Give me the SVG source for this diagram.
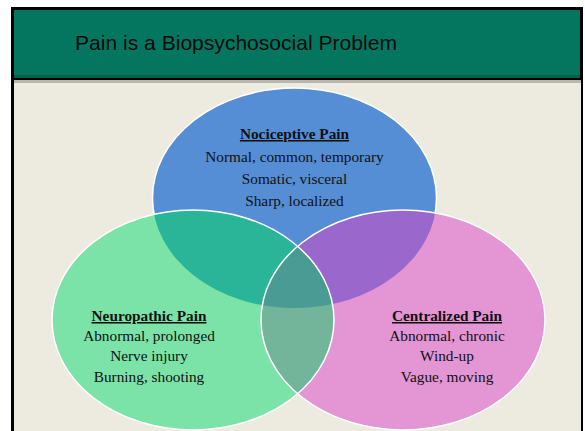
<svg xmlns="http://www.w3.org/2000/svg" width="585" height="431" viewBox="0 0 585 431">
<style>
.t{font-family:"Liberation Serif","Times New Roman",serif;font-size:15.3px;fill:#111;text-anchor:middle}
.h{font-weight:bold;text-decoration:underline}
.ol{fill:none;stroke:#fff;stroke-width:1.5}
</style>
<defs>
<clipPath id="cB"><ellipse cx="294.5" cy="198" rx="142" ry="110"/></clipPath>
<clipPath id="cG"><ellipse cx="193" cy="320" rx="141" ry="110"/></clipPath>
</defs>
<rect width="585" height="431" fill="#fff"/>
<rect x="11" y="7" width="572" height="430" fill="#000"/>
<rect x="14" y="10" width="566" height="68" fill="#04765F"/>
<rect x="14" y="75" width="566" height="3" fill="#035E4C"/>
<rect x="14" y="80" width="567" height="3" fill="#B9B6AD"/>
<rect x="14" y="83" width="567" height="350" fill="#EDEAE0"/>
<text x="75" y="50" font-family="'Liberation Sans',Arial,sans-serif" font-size="21" fill="#0a0a0a" textLength="322" lengthAdjust="spacingAndGlyphs">Pain is a Biopsychosocial Problem</text>

<g id="nociceptive">
<ellipse cx="294.5" cy="198" rx="142" ry="110" fill="#558ED5" stroke="#fff" stroke-width="1.5"/>
</g>
<g id="neuropathic">
<ellipse cx="193" cy="320" rx="141" ry="110" fill="#7BE3A8"/>
<ellipse cx="193" cy="320" rx="141" ry="110" fill="#2BB598" clip-path="url(#cB)"/>
</g>
<g id="centralized">
<ellipse cx="403" cy="320" rx="142" ry="110" fill="#E495D4"/>
<ellipse cx="403" cy="320" rx="142" ry="110" fill="#9A67CC" clip-path="url(#cB)"/>
<ellipse cx="403" cy="320" rx="142" ry="110" fill="#72B59A" clip-path="url(#cG)"/>
<g clip-path="url(#cB)"><ellipse cx="403" cy="320" rx="142" ry="110" fill="#4A9B93" clip-path="url(#cG)"/></g>
</g>
<g id="outlines">
<ellipse class="ol" cx="193" cy="320" rx="141" ry="110"/>
<ellipse class="ol" cx="403" cy="320" rx="142" ry="110"/>
</g>

<g id="label-nociceptive">
<text class="t h" x="294.5" y="139">Nociceptive Pain</text>
<text class="t" x="294.5" y="162">Normal, common, temporary</text>
<text class="t" x="294.5" y="184">Somatic, visceral</text>
<text class="t" x="294.5" y="206">Sharp, localized</text>
</g>
<g id="label-neuropathic">
<text class="t h" x="149" y="321">Neuropathic Pain</text>
<text class="t" x="149" y="341">Abnormal, prolonged</text>
<text class="t" x="149" y="361">Nerve injury</text>
<text class="t" x="149" y="382">Burning, shooting</text>
</g>
<g id="label-centralized">
<text class="t h" x="447" y="321">Centralized Pain</text>
<text class="t" x="447" y="341">Abnormal, chronic</text>
<text class="t" x="447" y="361">Wind-up</text>
<text class="t" x="447" y="382">Vague, moving</text>
</g>
</svg>
